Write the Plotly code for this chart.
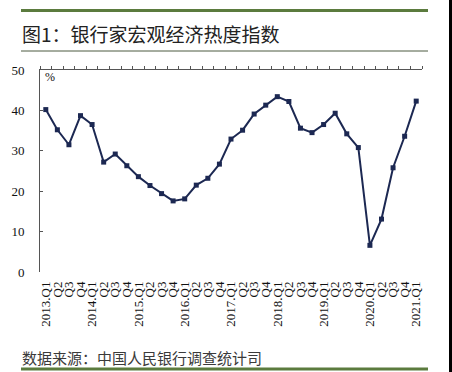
import plotly.graph_objects as go

labels = ["2013.Q1", "Q2", "Q3", "Q4",
          "2014.Q1", "Q2", "Q3", "Q4",
          "2015.Q1", "Q2", "Q3", "Q4",
          "2016.Q1", "Q2", "Q3", "Q4",
          "2017.Q1", "Q2", "Q3", "Q4",
          "2018.Q1", "Q2", "Q3", "Q4",
          "2019.Q1", "Q2", "Q3", "Q4",
          "2020.Q1", "Q2", "Q3", "Q4",
          "2021.Q1"]
values = [40.2, 35.2, 31.5, 38.7,
          36.5, 27.2, 29.2, 26.3,
          23.6, 21.4, 19.4, 17.6,
          18.1, 21.5, 23.2, 26.7,
          32.9, 35.1, 39.1, 41.3,
          43.4, 42.2, 35.6, 34.5,
          36.5, 39.3, 34.2, 30.8,
          6.6, 13.1, 25.8, 33.6,
          42.3]
y_ticks = [0, 10, 20, 30, 40, 50]
title_text = "图1：银行家宏观经济热度指数"
source_text = "数据来源：中国人民银行调查统计司"
unit_text = "%"

W, H = 452, 372
L, R, T, B = 40, 30, 70, 100
pw, ph = W - L - R, H - T - B

def px(x):
    return (x - L) / pw

def py(y):
    return (H - B - y) / ph

idx = list(range(len(values)))
serif = "Liberation Serif, Times New Roman, serif"
cjk = "Noto Sans CJK SC, sans-serif"

fig = go.Figure()
fig.add_trace(go.Scatter(
    x=idx, y=values, mode="lines+markers",
    line=dict(color="#1c2852", width=2),
    marker=dict(symbol="square", size=5, color="#1c2852"),
    hoverinfo="skip", showlegend=False))
# invisible trace to anchor the top axis
fig.add_trace(go.Scatter(x=[idx[0]], y=[values[0]], xaxis="x2",
                         mode="markers", marker=dict(opacity=0),
                         hoverinfo="skip", showlegend=False))

n = len(values)
fig.update_layout(
    width=W, height=H,
    margin=dict(l=L, r=R, t=T, b=B),
    paper_bgcolor="white", plot_bgcolor="white",
    xaxis=dict(range=[-0.5, n - 0.5], tickvals=idx, ticktext=labels,
               tickangle=-90, showline=False, ticks="", showgrid=False,
               zeroline=False, ticklabelstandoff=6,
               tickfont=dict(family=serif, size=13, color="#111")),
    xaxis2=dict(range=[-0.5, n - 0.5], overlaying="x", side="top",
                tickvals=[k - 0.5 for k in range(n + 1)],
                showticklabels=False, ticks="outside", ticklen=3,
                tickcolor="#555", showline=True, linecolor="#555",
                linewidth=1, showgrid=False, zeroline=False),
    yaxis=dict(range=[0, 50], tickvals=y_ticks, ticks="inside", ticklen=3,
               tickcolor="#555", showline=True, linecolor="#555",
               linewidth=1, showgrid=False, zeroline=False,
               ticklabelstandoff=12,
               tickfont=dict(family=serif, size=13, color="#111")),
    shapes=[
        dict(type="line", xref="paper", yref="paper",
             x0=px(21), x1=px(428), y0=py(10.5), y1=py(10.5),
             line=dict(color="#5b7b3e", width=3)),
        dict(type="line", xref="paper", yref="paper",
             x0=px(21), x1=px(428), y0=py(51), y1=py(51),
             line=dict(color="#4d5a40", width=1)),
        dict(type="line", xref="paper", yref="paper",
             x0=px(21), x1=px(428), y0=py(369), y1=py(369),
             line=dict(color="#5b7b3e", width=3)),
        dict(type="rect", xref="paper", yref="paper",
             x0=px(449), x1=px(453), y0=py(0), y1=py(372),
             line=dict(width=0), fillcolor="black"),
    ],
    annotations=[
        dict(text=title_text, xref="paper", yref="paper",
             x=px(20), y=py(33), xanchor="left", yanchor="middle",
             showarrow=False, font=dict(family=cjk, size=19, color="#222")),
        dict(text=source_text, xref="paper", yref="paper",
             x=px(20), y=py(357), xanchor="left", yanchor="middle",
             showarrow=False, font=dict(family=cjk, size=15, color="#3a3a3a")),
        dict(text=unit_text, xref="paper", yref="paper",
             x=px(43), y=py(77), xanchor="left", yanchor="middle",
             showarrow=False, font=dict(family=serif, size=12, color="#111")),
    ],
)

fig.write_html("out.html",
               config={"displayModeBar": False, "staticPlot": True},
               post_script="document.body.style.margin='0';"
                           "document.body.style.overflow='hidden';")
